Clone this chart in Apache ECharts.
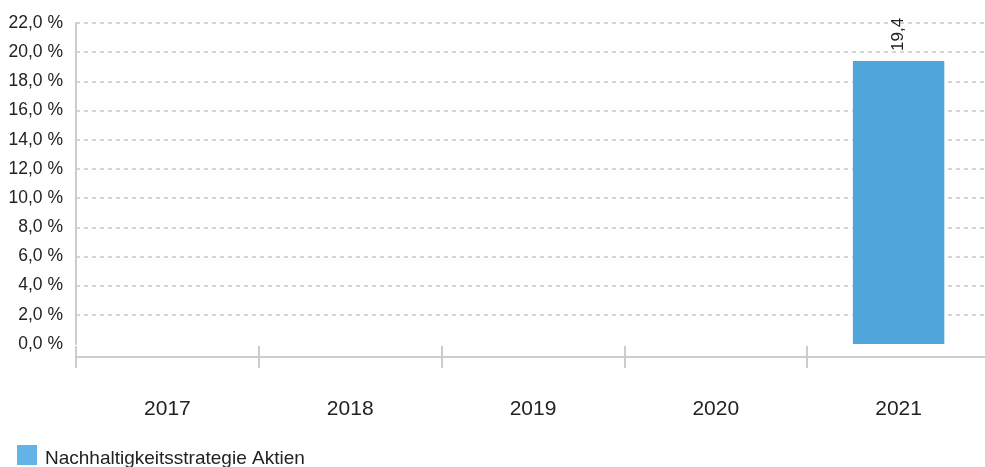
<!DOCTYPE html>
<html>
<head>
<meta charset="utf-8">
<script src="https://cdn.jsdelivr.net/npm/echarts@6/dist/echarts.min.js"></script>
<style>html,body{margin:0;padding:0;background:#fff;}#c{width:985px;height:467px;}</style>
</head>
<body>
<div id="c"></div>
<script>
const categories = ['2017', '2018', '2019', '2020', '2021'];
const seriesName = 'Nachhaltigkeitsstrategie Aktien';
const values = [null, null, null, null, 19.4];

const FONT = '"Liberation Sans", Arial, sans-serif';
const chart = echarts.init(document.getElementById('c'));
chart.setOption({
  animation: false,
  textStyle: { fontFamily: FONT },
  grid: { left: 76, width: 914, top: 23, bottom: 123, containLabel: false, outerBoundsMode: 'none' },
  legend: {
    left: 17, top: 445, padding: 0,
    itemWidth: 20, itemHeight: 20,
    icon: 'rect',
    data: [{ name: seriesName, itemStyle: { color: '#63b3e6' } }],
    formatter: '{t|{name}}',
    textStyle: {
      fontSize: 19, color: '#222', fontFamily: FONT,
      rich: { t: { fontSize: 19, color: '#222', fontFamily: FONT, padding: [7, 0, 0, 3] } }
    }
  },
  xAxis: [{
    type: 'category',
    data: categories,
    position: 'bottom',
    offset: 13,
    axisLine: { show: true, onZero: false, lineStyle: { color: '#cccccc', width: 2 } },
    axisTick: { show: true, length: 11, lineStyle: { color: '#cccccc', width: 2 } },
    axisLabel: { fontSize: 21, color: '#222', margin: 42, fontFamily: FONT },
    splitLine: { show: false }
  }, {
    type: 'category',
    data: categories,
    position: 'bottom',
    offset: 13,
    axisLine: { show: false, onZero: false },
    axisTick: { show: true, inside: true, length: 11, lineStyle: { color: '#cccccc', width: 2 } },
    axisLabel: { show: false },
    splitLine: { show: false }
  }],
  yAxis: {
    type: 'value',
    min: 0, max: 22, interval: 2,
    axisLine: { show: true, lineStyle: { color: '#cccccc', width: 2 } },
    axisTick: { show: false },
    axisLabel: {
      fontSize: 17.5, color: '#222', margin: 13, fontFamily: FONT,
      formatter: v => v.toFixed(1).replace('.', ',') + ' %'
    },
    splitLine: { show: true, showMinLine: false, lineStyle: { color: '#c8c8c8', type: [4, 4], width: 1.5 } }
  },
  series: [{
    name: seriesName,
    type: 'bar',
    xAxisIndex: 0,
    data: values,
    barWidth: '50%',
    itemStyle: { color: '#50a5da' },
    label: {
      show: true,
      position: 'top',
      rotate: 90,
      align: 'left',
      verticalAlign: 'middle',
      distance: 10,
      fontSize: 17, color: '#222', fontFamily: FONT,
      formatter: p => String(p.value).replace('.', ',')
    }
  }]
});
</script>
</body>
</html>
